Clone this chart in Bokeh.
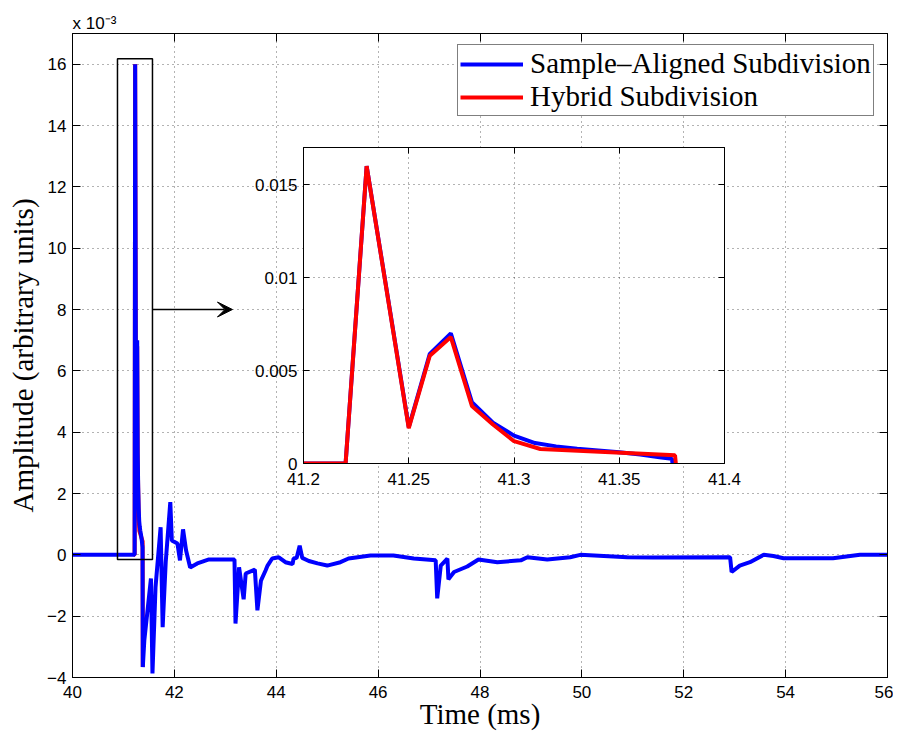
from bokeh.plotting import figure
from bokeh.models import (Range1d, FixedTicker, LinearAxis, Title, Arrow, VeeHead,
                          Legend, LegendItem, CustomJSTickFormatter)
from bokeh.layouts import column
from bokeh.embed import file_html
from bokeh.resources import INLINE

# ---------------- data ----------------
# Sample-aligned subdivision (blue), time in ms, amplitude in arbitrary units
t_sample = [40.00, 41.22, 41.23, 41.24, 41.25, 41.26, 41.27, 41.28, 41.29, 41.30,
            41.31, 41.32, 41.33, 41.34, 41.35, 41.36, 41.37, 41.375, 41.38, 41.41,
            41.54, 41.57, 41.63, 41.73, 41.77, 41.83, 41.92, 41.95, 42.06, 42.11,
            42.17, 42.23, 42.31, 42.45, 42.68, 43.18, 43.20, 43.27, 43.36, 43.40,
            43.58, 43.63, 43.70, 43.79, 43.83, 43.92, 44.05, 44.18, 44.32, 44.34,
            44.40, 44.46, 44.51, 44.64, 44.81, 45.00, 45.26, 45.42, 45.85, 46.30,
            46.70, 47.13, 47.16, 47.23, 47.36, 47.38, 47.49, 47.75, 47.97, 48.34,
            48.80, 48.93, 49.32, 49.77, 49.97, 50.89, 51.40, 52.91, 52.94, 53.10,
            53.30, 53.57, 53.76, 53.96, 54.93, 55.46, 56.00]
a_sample = [0.0, 0.0, 0.0160, 0.0090, 0.00195, 0.0059, 0.0070, 0.0033, 0.0022, 0.0015,
            0.0011, 0.00092, 0.00080, 0.00070, 0.00060, 0.00048, 0.00032, 0.00025, -0.00366, -0.00279,
            -0.00077, -0.00387, -0.00105, 0.00090, -0.00236, -0.00024, 0.00172, 0.00047, 0.00037, -0.00018,
            0.00083, 0.00014, -0.00041, -0.00028, -0.00015, -0.00015, -0.00224, -0.00041, -0.00145, -0.00061,
            -0.00048, -0.00181, -0.00084, -0.00051, -0.00035, -0.00012, -0.00008, -0.00024, -0.00030, -0.00012,
            -0.00010, 0.00030, -0.00010, -0.00020, -0.00028, -0.00035, -0.00024, -0.00012, -0.00002, -0.00002,
            -0.00012, -0.00018, -0.00142, -0.00035, -0.00012, -0.00080, -0.00056, -0.00038, -0.00015, -0.00024,
            -0.00018, -0.00008, -0.00015, -0.00008, 0.0, -0.00008, -0.00009, -0.00008, -0.00056, -0.00035,
            -0.00024, 0.0, -0.00004, -0.00011, -0.00011, 0.0, 0.0]

# Hybrid subdivision (red)
t_hybrid = [41.20, 41.22, 41.23, 41.25, 41.26, 41.27, 41.28, 41.29, 41.30, 41.3125,
            41.3765, 41.38]
a_hybrid = [0.0, 0.0, 0.0160, 0.0019, 0.0058, 0.0068, 0.0031, 0.0021, 0.0012, 0.00078,
            0.00044, -0.00366]

labels = ["Sample\u2013Aligned Subdivision", "Hybrid Subdivision"]

main_x_ticks = [40, 42, 44, 46, 48, 50, 52, 54, 56]
main_y_ticks = [-0.004, -0.002, 0.0, 0.002, 0.004, 0.006, 0.008, 0.010, 0.012, 0.014, 0.016]
main_y_labels = ["\u22124", "\u22122", "0", "2", "4", "6", "8", "10", "12", "14", "16"]
y_exponent_text = "x 10\u207B\u00B3"

inset_x_ticks = [41.2, 41.25, 41.3, 41.35, 41.4]
inset_x_labels = ["41.2", "41.25", "41.3", "41.35", "41.4"]
inset_y_ticks = [0.0, 0.005, 0.01, 0.015]
inset_y_labels = ["0", "0.005", "0.01", "0.015"]

zoom_box = dict(left=40.883, right=41.57, bottom=-0.00015, top=0.016175)
arrow_pts = dict(x_start=41.57, y_start=0.008, x_end=43.14, y_end=0.008)

SANS = "Liberation Sans"
SERIF = "Liberation Serif"
BLUE = "#0000FF"
RED = "#FF0000"


def style_axis(ax, tick_len, standoff):
    ax.major_tick_in = tick_len
    ax.major_tick_out = 0
    ax.minor_tick_in = 0
    ax.minor_tick_out = 0
    ax.axis_line_color = "black"
    ax.axis_line_width = 1
    ax.major_tick_line_color = "black"
    ax.major_tick_line_width = 1
    ax.major_label_text_font = SANS
    ax.major_label_text_font_size = "17px"
    ax.major_label_text_color = "black"
    ax.major_label_standoff = standoff


def mirror_axis(fig, ticks, side, tick_len):
    ax = LinearAxis(ticker=FixedTicker(ticks=ticks),
                    formatter=CustomJSTickFormatter(code="return ''"))
    ax.major_tick_in = tick_len
    ax.major_tick_out = 0
    ax.minor_tick_in = 0
    ax.minor_tick_out = 0
    ax.major_label_text_font_size = "0px"
    ax.major_label_standoff = 0
    ax.axis_line_color = "black"
    ax.major_tick_line_color = "black"
    fig.add_layout(ax, side)


def style_grid(g, ticks):
    g.ticker = FixedTicker(ticks=ticks)
    g.grid_line_color = "black"
    g.grid_line_alpha = 0.6
    g.grid_line_dash = "1 4"
    g.grid_line_width = 1


# ---------------- main figure ----------------
p = figure(frame_width=815, frame_height=644, output_backend="svg", toolbar_location=None,
           x_range=Range1d(40, 56), y_range=Range1d(-0.004, 0.017),
           min_border_left=72, min_border_right=14, min_border_top=33, min_border_bottom=59)
p.background_fill_color = "white"
p.border_fill_color = "white"
p.outline_line_color = "black"
p.outline_line_width = 1
p.styles = {"position": "relative", "left": "-8px"}

xb = p.below[0]
yl = p.left[0]
xb.ticker = FixedTicker(ticks=main_x_ticks)
yl.ticker = FixedTicker(ticks=main_y_ticks)
yl.major_label_overrides = dict(zip(main_y_ticks, main_y_labels))
style_axis(xb, 8, 8)
style_axis(yl, 8, 6)

xb.axis_label = "Time (ms)"
yl.axis_label = "Amplitude (arbitrary units)"
for ax in (xb, yl):
    ax.axis_label_text_font = SERIF
    ax.axis_label_text_font_size = "29px"
    ax.axis_label_text_font_style = "normal"
    ax.axis_label_text_color = "black"
xb.axis_label_standoff = -3
yl.axis_label_standoff = 5

mirror_axis(p, main_x_ticks, "above", 8)
mirror_axis(p, main_y_ticks, "right", 8)

style_grid(p.xgrid[0], main_x_ticks)
style_grid(p.ygrid[0], main_y_ticks)

r_red = p.line(t_hybrid, a_hybrid, line_color=RED, line_width=4)
r_blue = p.line(t_sample, a_sample, line_color=BLUE, line_width=4)

p.quad(fill_color=None, line_color="black", line_width=1.5, **zoom_box)
p.add_layout(Arrow(end=VeeHead(size=15, fill_color="black", line_color="black", line_width=1),
                   line_color="black", line_width=1.5, **arrow_pts))

p.add_layout(Title(text=y_exponent_text, align="left", text_font=SANS,
                   text_font_size="17px", text_font_style="normal", text_color="black",
                   standoff=2, offset=0), "above")

legend = Legend(items=[LegendItem(label=labels[0], renderers=[r_blue]),
                       LegendItem(label=labels[1], renderers=[r_red])],
                location=(385, 561))
legend.margin = 0
legend.padding = 2
legend.spacing = 0
legend.glyph_width = 63
legend.glyph_height = 28
legend.label_height = 28
legend.label_standoff = 7
legend.label_text_font = SERIF
legend.label_text_font_size = "29px"
legend.label_text_color = "black"
legend.border_line_color = "black"
legend.border_line_width = 1
legend.background_fill_color = "white"
legend.background_fill_alpha = 1.0
p.add_layout(legend)

# ---------------- inset figure ----------------
q = figure(frame_width=421, frame_height=316, output_backend="svg", toolbar_location=None,
           x_range=Range1d(41.2, 41.4), y_range=Range1d(0, 0.017),
           min_border_left=80, min_border_right=30, min_border_top=30, min_border_bottom=45)
q.border_fill_color = None
q.background_fill_color = "white"
q.outline_line_color = "black"
q.outline_line_width = 1
q.styles = {"position": "absolute", "left": "223px", "top": "117px"}

qx = q.below[0]
qy = q.left[0]
qx.ticker = FixedTicker(ticks=inset_x_ticks)
qy.ticker = FixedTicker(ticks=inset_y_ticks)
qx.major_label_overrides = dict(zip(inset_x_ticks, inset_x_labels))
qy.major_label_overrides = dict(zip(inset_y_ticks, inset_y_labels))
style_axis(qx, 6, 9)
style_axis(qy, 6, 6)
mirror_axis(q, inset_x_ticks, "above", 6)
mirror_axis(q, inset_y_ticks, "right", 6)

style_grid(q.xgrid[0], inset_x_ticks)
style_grid(q.ygrid[0], inset_y_ticks)

q.line(t_sample, a_sample, line_color=BLUE, line_width=4)
q.line(t_hybrid, a_hybrid, line_color=RED, line_width=4)

layout = column(p, q)
open("out.html", "w").write(file_html(layout, INLINE))
